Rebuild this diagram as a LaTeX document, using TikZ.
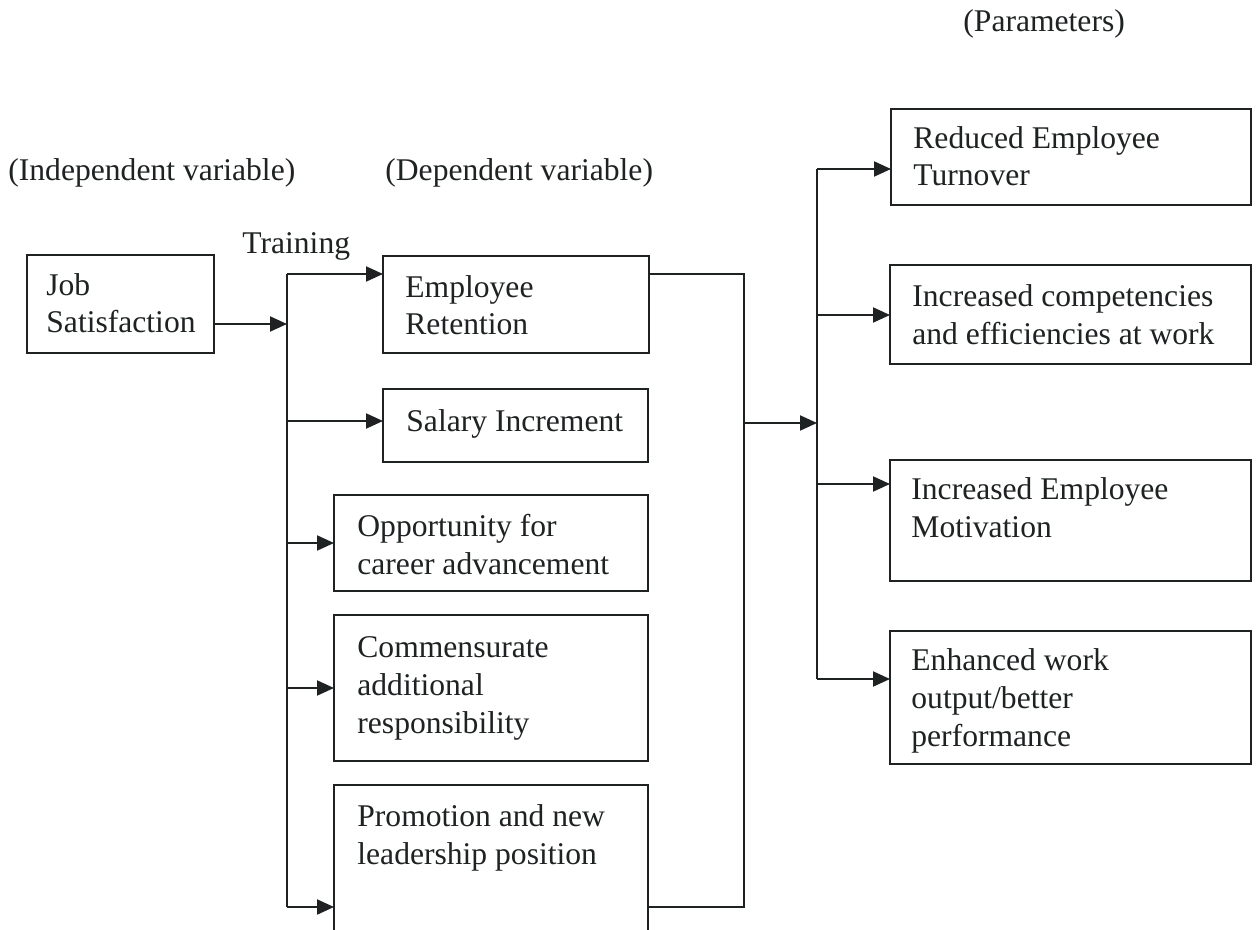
\documentclass[tikz,border=0pt]{standalone}
\usepackage{fontspec}
\setmainfont{Liberation Serif}
\usetikzlibrary{arrows.meta}
\definecolor{ink}{RGB}{30,34,34}
\begin{document}
\begin{tikzpicture}[x=0.5pt,y=-0.5pt,
  box/.style={draw=ink, line width=1pt, rectangle, inner sep=0pt, outer sep=0pt, anchor=north west},
  txt/.style={text=ink, anchor=base west, align=left, inner sep=0pt, font=\fontsize{15.8}{18.9}\selectfont},
  wire/.style={draw=ink, line width=1pt},
  arr/.style={wire, -{Triangle[length=8.5pt,width=7.5pt]}}]
\useasboundingbox (0,0) rectangle (1257,930);
\clip (0,0) rectangle (1257,930);
\fill[white] (0,0) rectangle (1257,930);

% headings
\node[txt] (hpar) at (963,32) {(Parameters)};
\node[txt] (hind) at (8,181) {(Independent variable)};
\node[txt] (hdep) at (385,181) {(Dependent variable)};
\node[txt] (htr) at (242,254) {Training};

% boxes
\node[box, minimum width=93.5pt, minimum height=49pt] (job) at (27,255) {};
\node[box, minimum width=133pt, minimum height=48.5pt] (er) at (383,256) {};
\node[box, minimum width=132.5pt, minimum height=36.5pt] (sal) at (383,389) {};
\node[box, minimum width=157pt, minimum height=48pt] (opp) at (334,495) {};
\node[box, minimum width=157pt, minimum height=73pt] (com) at (334,615) {};
\node[box, minimum width=157pt, minimum height=90pt] (pro) at (334,785) {};
\node[box, minimum width=180pt, minimum height=48pt] (rd) at (891,109) {};
\node[box, minimum width=180.5pt, minimum height=49.5pt] (ic) at (890,265) {};
\node[box, minimum width=180.5pt, minimum height=60.5pt] (im) at (890,460) {};
\node[box, minimum width=180.5pt, minimum height=66.5pt] (en) at (890,631) {};

% box texts (base anchor = baseline of the last line)
\node[txt] (jobt) at (46,333) {Job\\Satisfaction};
\node[txt] (ert) at (405,335) {Employee\\Retention};
\node[txt] (salt) at (406,431) {Salary Increment};
\node[txt] (oppt) at (357,574) {Opportunity for\\career advancement};
\node[txt] (comt) at (357,733) {Commensurate\\additional\\responsibility};
\node[txt] (prot) at (357,864) {Promotion and new\\leadership position};
\node[txt] (rdt) at (913,186) {Reduced Employee\\Turnover};
\node[txt] (ict) at (912,344) {Increased competencies\\and efficiencies at work};
\node[txt] (imt) at (911,537) {Increased Employee\\Motivation};
\node[txt] (ent) at (911,746) {Enhanced work\\output/better\\performance};

% junction coordinates
\coordinate (lj) at (287,324);
\coordinate (lt) at (287,274);
\coordinate (ls) at (287,421);
\coordinate (lo) at (287,543);
\coordinate (lc) at (287,688);
\coordinate (lb) at (287,907);
\coordinate (rt) at (744,274);
\coordinate (rm) at (744,423);
\coordinate (rb) at (744,907);
\coordinate (qm) at (817,423);
\coordinate (qt) at (817,169);
\coordinate (qc) at (817,315);
\coordinate (qi) at (817,484);
\coordinate (qb) at (817,679);

% left side
\draw[arr] (job.east |- lj) -- (lj);
\draw[wire] (lt) -- (lb);
\draw[arr] (lt) -- (lt -| er.west);
\draw[arr] (ls) -- (ls -| sal.west);
\draw[arr] (lo) -- (lo -| opp.west);
\draw[arr] (lc) -- (lc -| com.west);
\draw[arr] (lb) -- (lb -| pro.west);

% right collector
\draw[wire] (er.east |- rt) -- (rt) -- (rb) -- (rb -| pro.east);
\draw[arr] (rm) -- (qm);

% outputs
\draw[wire] (qt) -- (qb);
\draw[arr] (qt) -- (qt -| rd.west);
\draw[arr] (qc) -- (qc -| ic.west);
\draw[arr] (qi) -- (qi -| im.west);
\draw[arr] (qb) -- (qb -| en.west);
\end{tikzpicture}
\end{document}
